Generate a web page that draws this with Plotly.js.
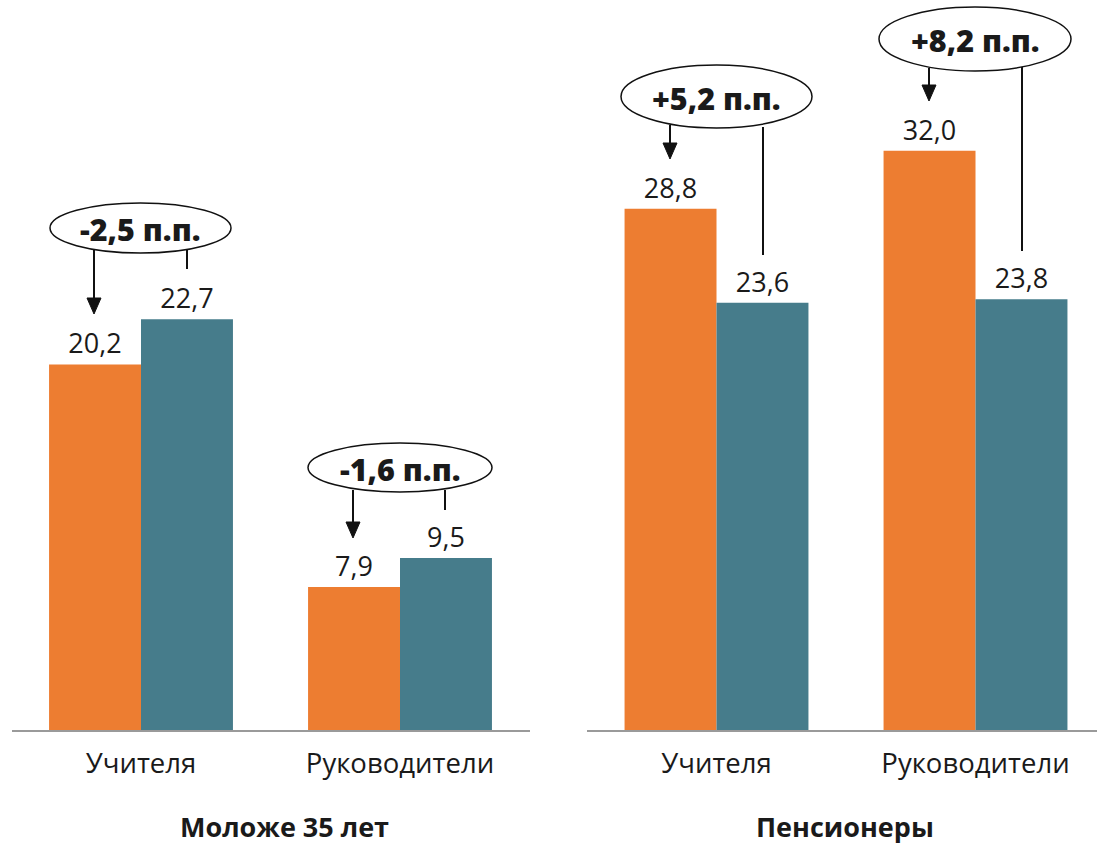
<!DOCTYPE html>
<html>
<head>
<meta charset="utf-8">
<script src="https://cdn.plot.ly/plotly-3.0.1.min.js"></script>
<style>html,body{margin:0;padding:0;background:#fff;}#chart{width:1097px;height:845px;}</style>
</head>
<body>
<div id="chart"></div>
<script>
// ---- data ----
const categories = ['Учителя', 'Руководители'];
const groupTitles = ['Моложе 35 лет', 'Пенсионеры'];
const youngOrange = [20.2, 7.9];
const youngTeal = [22.7, 9.5];
const pensionOrange = [28.8, 32.0];
const pensionTeal = [23.6, 23.8];

// ---- styling ----
const W = 1097, H = 845;
const ORANGE = '#ED7D31', TEAL = '#467C8B';
const FONT = 'Open Sans, DejaVu Sans, sans-serif';
const fmt = v => v.toFixed(1).replace('.', ',');
const fmtDiff = v => (v > 0 ? '+' : '-') + Math.abs(v).toFixed(1).replace('.', ',') + ' п.п.';
const X = px => px / W, Y = py => 1 - py / H;

function barTrace(vals, color, xa, ya) {
  return {
    type: 'bar', x: categories, y: vals, xaxis: xa, yaxis: ya,
    marker: {color: color, line: {width: 0}},
    text: vals.map(fmt), textposition: 'outside', cliponaxis: false,
    textfont: {family: FONT, size: 27, color: '#1a1a1a'},
    hoverinfo: 'skip'
  };
}

const data = [
  barTrace(youngOrange, ORANGE, 'x', 'y'),
  barTrace(youngTeal, TEAL, 'x', 'y'),
  barTrace(pensionOrange, ORANGE, 'x2', 'y2'),
  barTrace(pensionTeal, TEAL, 'x2', 'y2')
];

const yTop = 730 / 18.1;
const xCommon = {
  type: 'category', showline: true, linecolor: '#9a9a9a', linewidth: 2,
  showgrid: false, zeroline: false, ticks: '', fixedrange: true,
  ticklabelstandoff: 8,
  tickfont: {family: FONT, size: 27.5, color: '#1a1a1a'}
};
const yCommon = {range: [0, yTop], visible: false, fixedrange: true, domain: [115 / H, 1]};

// callouts: ellipse box, arrow and tick line positions (pixels)
const diffs = [
  youngOrange[0] - youngTeal[0], youngOrange[1] - youngTeal[1],
  pensionOrange[0] - pensionTeal[0], pensionOrange[1] - pensionTeal[1]
];
const callouts = [
  {x0: 50, x1: 231, y0: 203, y1: 253, ax: 94, a0: 249, a1: 314, lx: 187, l0: 250, l1: 269},
  {x0: 308, x1: 492, y0: 443, y1: 492, ax: 353, a0: 490, a1: 538, lx: 445, l0: 490, l1: 510},
  {x0: 621, x1: 812, y0: 65, y1: 128, ax: 670, a0: 125, a1: 159, lx: 763, l0: 127, l1: 255},
  {x0: 879, x1: 1071, y0: 7, y1: 71, ax: 929, a0: 68, a1: 101, lx: 1022, l0: 67, l1: 251}
];

const shapes = [], annotations = [];
callouts.forEach((c, i) => {
  shapes.push({type: 'line', xref: 'paper', yref: 'paper', x0: X(c.ax), x1: X(c.ax), y0: Y(c.a0), y1: Y(c.a1 - 14), line: {color: '#111', width: 2}});
  shapes.push({type: 'path', xref: 'paper', yref: 'paper',
    path: `M ${X(c.ax - 7)} ${Y(c.a1 - 16)} L ${X(c.ax + 7)} ${Y(c.a1 - 16)} L ${X(c.ax)} ${Y(c.a1)} Z`,
    fillcolor: '#111', line: {color: '#111', width: 1}});
  shapes.push({type: 'line', xref: 'paper', yref: 'paper', x0: X(c.lx), x1: X(c.lx), y0: Y(c.l0), y1: Y(c.l1), line: {color: '#111', width: 2}});
  shapes.push({type: 'circle', xref: 'paper', yref: 'paper', x0: X(c.x0), x1: X(c.x1), y0: Y(c.y1), y1: Y(c.y0),
    fillcolor: '#fff', line: {color: '#111', width: 1.5}});
  annotations.push({xref: 'paper', yref: 'paper', x: X((c.x0 + c.x1) / 2), y: Y((c.y0 + c.y1) / 2 + 1),
    text: fmtDiff(diffs[i]), showarrow: false, xanchor: 'center', yanchor: 'middle',
    font: {family: FONT, size: 30.5, weight: 800, color: '#1a1a1a'}});
});
annotations.push({xref: 'paper', yref: 'paper', x: X(284), y: Y(826), text: '<b>' + groupTitles[0] + '</b>',
  showarrow: false, xanchor: 'center', yanchor: 'middle', font: {family: FONT, size: 27, color: '#1a1a1a'}});
annotations.push({xref: 'paper', yref: 'paper', x: X(845), y: Y(826), text: '<b>' + groupTitles[1] + '</b>',
  showarrow: false, xanchor: 'center', yanchor: 'middle', font: {family: FONT, size: 27, color: '#1a1a1a'}});

const layout = {
  width: W, height: H, margin: {l: 0, r: 0, t: 0, b: 0},
  paper_bgcolor: '#fff', plot_bgcolor: '#fff', showlegend: false,
  barmode: 'group', bargap: 0.29, bargroupgap: 0,
  xaxis: Object.assign({}, xCommon, {domain: [11.5 / W, 529.5 / W], range: [-0.5, 1.5], anchor: 'y'}),
  xaxis2: Object.assign({}, xCommon, {domain: [587 / W, 1], range: [-0.5, -0.5 + 510 / 259], anchor: 'y2'}),
  yaxis: Object.assign({}, yCommon, {anchor: 'x'}),
  yaxis2: Object.assign({}, yCommon, {anchor: 'x2'}),
  shapes: shapes, annotations: annotations
};

Plotly.newPlot('chart', data, layout, {displayModeBar: false, staticPlot: true});
</script>
</body>
</html>
